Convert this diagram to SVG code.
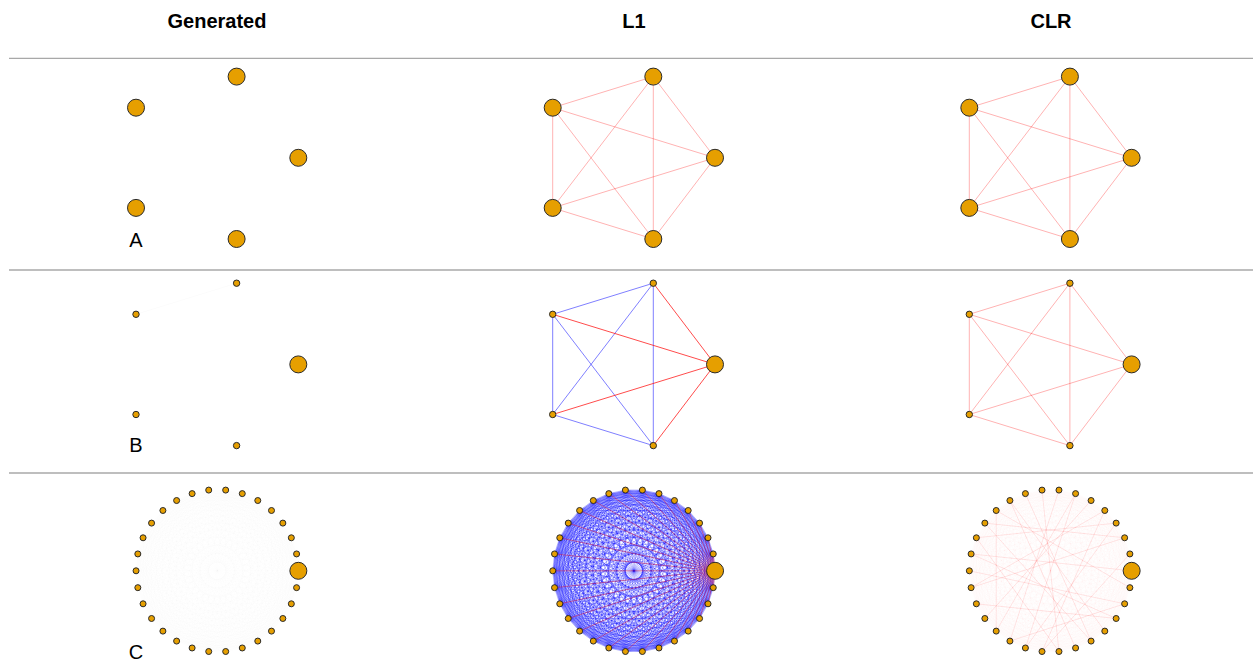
<svg xmlns="http://www.w3.org/2000/svg" xmlns:xlink="http://www.w3.org/1999/xlink" width="1253" height="660" viewBox="0 0 1253 660">
<style>
.hdr{font-family:"Liberation Sans",Arial,sans-serif;font-weight:bold;font-size:20px;text-anchor:middle;fill:#000}
.lbl{font-family:"Liberation Sans",Arial,sans-serif;font-size:20px;text-anchor:middle;fill:#000}
.sep{stroke:#a8a8a8;stroke-width:1.3}
.n{fill:#E69F00;stroke:#2a2a2a;stroke-width:1}
.pink{stroke:#ff0000;stroke-opacity:0.3;stroke-width:1;fill:none}
.red{stroke:#ff0000;stroke-opacity:0.7;stroke-width:1;fill:none}
.blue{stroke:#0000ff;stroke-opacity:0.5;stroke-width:1;fill:none}
.ghost{stroke:#000;stroke-opacity:0.025;stroke-width:0.8;fill:none}
.genC{stroke:#888;stroke-opacity:0.015;stroke-width:0.6;fill:none}
.l1C{stroke:#0000ff;stroke-opacity:0.4;stroke-width:0.7;fill:none}
.l1R{stroke:#ff0000;stroke-opacity:0.55;stroke-width:0.7;fill:none}
.clrC{stroke:#ff0000;stroke-opacity:0.025;stroke-width:0.6;fill:none}
.clrR{stroke:#ff0000;stroke-opacity:0.12;stroke-width:0.8;fill:none}
</style>
<defs>
<path id="e0" d="M298.3 157.8L236.6 76.6M298.3 157.8L136 107.7M298.3 157.8L136 207.9M298.3 157.8L236.6 239"/>
<path id="er" d="M236.6 76.6L136 107.7M236.6 76.6L136 207.9M236.6 76.6L236.6 239M136 107.7L136 207.9M136 107.7L236.6 239M136 207.9L236.6 239"/>
<path id="fan" fill="none" d="M81.15 0L79.38-16.87M81.15 0L74.13-33.01M81.15 0L65.65-47.7M81.15 0L54.3-60.31M81.15 0L40.58-70.28M81.15 0L25.08-77.18M81.15 0L8.48-80.71M81.15 0L-8.48-80.71M81.15 0L-25.08-77.18M81.15 0L-40.58-70.28M81.15 0L-54.3-60.31M81.15 0L-65.65-47.7M81.15 0L-74.13-33.01M81.15 0L-79.38-16.87"/>
<path id="diam" fill="none" d="M81.15 0L-81.15 0M79.38-16.87L-79.38 16.87M74.13-33.01L-74.13 33.01M65.65-47.7L-65.65 47.7M54.3-60.31L-54.3 60.31M40.58-70.28L-40.58 70.28M25.08-77.18L-25.08 77.18M8.48-80.71L-8.48 80.71M-8.48-80.71L8.48 80.71M-25.08-77.18L25.08 77.18M-40.58-70.28L40.58 70.28M-54.3-60.31L54.3 60.31M-65.65-47.7L65.65 47.7M-74.13-33.01L74.13 33.01M-79.38-16.87L79.38 16.87"/>
<g id="half">
<use href="#fan"/><use href="#fan" transform="rotate(-12)"/><use href="#fan" transform="rotate(-24)"/><use href="#fan" transform="rotate(-36)"/><use href="#fan" transform="rotate(-48)"/><use href="#fan" transform="rotate(-60)"/><use href="#fan" transform="rotate(-72)"/><use href="#fan" transform="rotate(-84)"/><use href="#fan" transform="rotate(-96)"/><use href="#fan" transform="rotate(-108)"/><use href="#fan" transform="rotate(-120)"/><use href="#fan" transform="rotate(-132)"/><use href="#fan" transform="rotate(-144)"/><use href="#fan" transform="rotate(-156)"/><use href="#fan" transform="rotate(-168)"/>
</g>
<g id="k30"><use href="#half"/><use href="#half" transform="rotate(180)"/><use href="#diam"/></g>
<path id="star0" fill="none" d="M81.15 0L79.38-16.87M81.15 0L74.13-33.01M81.15 0L65.65-47.7M81.15 0L54.3-60.31M81.15 0L40.58-70.28M81.15 0L25.08-77.18M81.15 0L8.48-80.71M81.15 0L-8.48-80.71M81.15 0L-25.08-77.18M81.15 0L-40.58-70.28M81.15 0L-54.3-60.31M81.15 0L-65.65-47.7M81.15 0L-74.13-33.01M81.15 0L-79.38-16.87M81.15 0L-81.15 0M81.15 0L79.38 16.87M81.15 0L74.13 33.01M81.15 0L65.65 47.7M81.15 0L54.3 60.31M81.15 0L40.58 70.28M81.15 0L25.08 77.18M81.15 0L8.48 80.71M81.15 0L-8.48 80.71M81.15 0L-25.08 77.18M81.15 0L-40.58 70.28M81.15 0L-54.3 60.31M81.15 0L-65.65 47.7M81.15 0L-74.13 33.01M81.15 0L-79.38 16.87"/>
</defs>
<rect width="1253" height="660" fill="#fff"/>
<g id="headers">
<text class="hdr" x="217" y="28">Generated</text>
<text class="hdr" x="634" y="28">L1</text>
<text class="hdr" x="1051" y="28">CLR</text>
</g>
<g id="separators">
<line class="sep" x1="9" y1="58.3" x2="1253" y2="58.3"/>
<line class="sep" x1="9" y1="270" x2="1253" y2="270"/>
<line class="sep" x1="9" y1="473" x2="1253" y2="473"/>
</g>
<g id="row-labels">
<text class="lbl" x="136" y="246.7">A</text>
<text class="lbl" x="136" y="452.3">B</text>
<text class="lbl" x="136" y="658.5">C</text>
</g>
<g id="connectors">
<g id="edges-L1-A" transform="translate(416.7,0)"><use href="#e0" class="pink"/><use href="#er" class="pink"/></g>
<g id="edges-CLR-A" transform="translate(833.3,0)"><use href="#e0" class="pink"/><use href="#er" class="pink"/></g>
<g id="edges-Gen-B" transform="translate(0,206.6)"><path class="ghost" d="M236.6 76.6L136 107.7"/></g>
<g id="edges-L1-B" transform="translate(416.7,206.6)"><use href="#er" class="blue"/><use href="#e0" class="red"/></g>
<g id="edges-CLR-B" transform="translate(833.3,206.6)"><use href="#e0" class="pink"/><use href="#er" class="pink"/></g>
<g id="edges-Gen-C" transform="translate(217.2,570.8)"><use href="#k30" class="genC"/></g>
<g id="edges-L1-C" transform="translate(633.9,570.8)"><use href="#k30" class="l1C"/><use href="#star0" class="l1R"/></g>
<g id="edges-CLR-C" transform="translate(1050.5,570.8)"><use href="#k30" class="clrC"/>
<path class="clrR" d="M-79.38-16.87L81.15 0M-74.13-33.01L65.65-47.7M-54.3-60.31L-54.3 60.31M-40.58-70.28L54.3 60.31M8.48-80.71L-40.58 70.28M-8.48-80.71L8.48 80.71M-25.08-77.18L40.58 70.28M-65.65-47.7L74.13-33.01M-79.38 16.87L54.3-60.31M-74.13 33.01L65.65 47.7M-65.65 47.7L40.58-70.28M-25.08 77.18L25.08-77.18M-8.48 80.71L79.38-16.87M-81.15 0L74.13 33.01M40.58 70.28L-65.65-47.7M25.08-77.18L-54.3 60.31M54.3-60.31L-8.48 80.71M65.65-47.7L-25.08 77.18M74.13-33.01L-79.38 16.87M79.38 16.87L-54.3-60.31M25.08 77.18L-40.58-70.28M8.48 80.71L-74.13-33.01M65.65 47.7L-79.38-16.87M-40.58 70.28L74.13 33.01"/></g>
</g>
<g id="nodes-A">
<g id="gen-A-1"><circle class="n" cx="298.3" cy="157.8" r="8.5"/></g>
<g id="gen-A-2"><circle class="n" cx="236.6" cy="76.6" r="8.5"/></g>
<g id="gen-A-3"><circle class="n" cx="136" cy="107.7" r="8.5"/></g>
<g id="gen-A-4"><circle class="n" cx="136" cy="207.9" r="8.5"/></g>
<g id="gen-A-5"><circle class="n" cx="236.6" cy="239" r="8.5"/></g>
<g id="l1-A-1"><circle class="n" cx="715" cy="157.8" r="8.5"/></g>
<g id="l1-A-2"><circle class="n" cx="653.3" cy="76.6" r="8.5"/></g>
<g id="l1-A-3"><circle class="n" cx="552.7" cy="107.7" r="8.5"/></g>
<g id="l1-A-4"><circle class="n" cx="552.7" cy="207.9" r="8.5"/></g>
<g id="l1-A-5"><circle class="n" cx="653.3" cy="239" r="8.5"/></g>
<g id="clr-A-1"><circle class="n" cx="1131.6" cy="157.8" r="8.5"/></g>
<g id="clr-A-2"><circle class="n" cx="1069.9" cy="76.6" r="8.5"/></g>
<g id="clr-A-3"><circle class="n" cx="969.3" cy="107.7" r="8.5"/></g>
<g id="clr-A-4"><circle class="n" cx="969.3" cy="207.9" r="8.5"/></g>
<g id="clr-A-5"><circle class="n" cx="1069.9" cy="239" r="8.5"/></g>
</g>
<g id="nodes-B">
<g id="gen-B-1"><circle class="n" cx="298.3" cy="364.4" r="8.5"/></g>
<g id="gen-B-2"><circle class="n" cx="236.6" cy="283.2" r="3.2"/></g>
<g id="gen-B-3"><circle class="n" cx="136" cy="314.3" r="3.2"/></g>
<g id="gen-B-4"><circle class="n" cx="136" cy="414.5" r="3.2"/></g>
<g id="gen-B-5"><circle class="n" cx="236.6" cy="445.6" r="3.2"/></g>
<g id="l1-B-1"><circle class="n" cx="715" cy="364.4" r="8.5"/></g>
<g id="l1-B-2"><circle class="n" cx="653.3" cy="283.2" r="3.2"/></g>
<g id="l1-B-3"><circle class="n" cx="552.7" cy="314.3" r="3.2"/></g>
<g id="l1-B-4"><circle class="n" cx="552.7" cy="414.5" r="3.2"/></g>
<g id="l1-B-5"><circle class="n" cx="653.3" cy="445.6" r="3.2"/></g>
<g id="clr-B-1"><circle class="n" cx="1131.6" cy="364.4" r="8.5"/></g>
<g id="clr-B-2"><circle class="n" cx="1069.9" cy="283.2" r="3.2"/></g>
<g id="clr-B-3"><circle class="n" cx="969.3" cy="314.3" r="3.2"/></g>
<g id="clr-B-4"><circle class="n" cx="969.3" cy="414.5" r="3.2"/></g>
<g id="clr-B-5"><circle class="n" cx="1069.9" cy="445.6" r="3.2"/></g>
</g>
<g id="nodes-gen-C" transform="translate(217.2,570.8)">
<g id="gen-C-0"><circle class="n" cx="81.15" cy="0" r="8.5"/></g>
<g id="gen-C-1"><circle class="n" cx="79.38" cy="-16.87" r="3"/></g>
<g id="gen-C-2"><circle class="n" cx="74.13" cy="-33.01" r="3"/></g>
<g id="gen-C-3"><circle class="n" cx="65.65" cy="-47.7" r="3"/></g>
<g id="gen-C-4"><circle class="n" cx="54.3" cy="-60.31" r="3"/></g>
<g id="gen-C-5"><circle class="n" cx="40.58" cy="-70.28" r="3"/></g>
<g id="gen-C-6"><circle class="n" cx="25.08" cy="-77.18" r="3"/></g>
<g id="gen-C-7"><circle class="n" cx="8.48" cy="-80.71" r="3"/></g>
<g id="gen-C-8"><circle class="n" cx="-8.48" cy="-80.71" r="3"/></g>
<g id="gen-C-9"><circle class="n" cx="-25.08" cy="-77.18" r="3"/></g>
<g id="gen-C-10"><circle class="n" cx="-40.58" cy="-70.28" r="3"/></g>
<g id="gen-C-11"><circle class="n" cx="-54.3" cy="-60.31" r="3"/></g>
<g id="gen-C-12"><circle class="n" cx="-65.65" cy="-47.7" r="3"/></g>
<g id="gen-C-13"><circle class="n" cx="-74.13" cy="-33.01" r="3"/></g>
<g id="gen-C-14"><circle class="n" cx="-79.38" cy="-16.87" r="3"/></g>
<g id="gen-C-15"><circle class="n" cx="-81.15" cy="0" r="3"/></g>
<g id="gen-C-16"><circle class="n" cx="-79.38" cy="16.87" r="3"/></g>
<g id="gen-C-17"><circle class="n" cx="-74.13" cy="33.01" r="3"/></g>
<g id="gen-C-18"><circle class="n" cx="-65.65" cy="47.7" r="3"/></g>
<g id="gen-C-19"><circle class="n" cx="-54.3" cy="60.31" r="3"/></g>
<g id="gen-C-20"><circle class="n" cx="-40.58" cy="70.28" r="3"/></g>
<g id="gen-C-21"><circle class="n" cx="-25.08" cy="77.18" r="3"/></g>
<g id="gen-C-22"><circle class="n" cx="-8.48" cy="80.71" r="3"/></g>
<g id="gen-C-23"><circle class="n" cx="8.48" cy="80.71" r="3"/></g>
<g id="gen-C-24"><circle class="n" cx="25.08" cy="77.18" r="3"/></g>
<g id="gen-C-25"><circle class="n" cx="40.58" cy="70.28" r="3"/></g>
<g id="gen-C-26"><circle class="n" cx="54.3" cy="60.31" r="3"/></g>
<g id="gen-C-27"><circle class="n" cx="65.65" cy="47.7" r="3"/></g>
<g id="gen-C-28"><circle class="n" cx="74.13" cy="33.01" r="3"/></g>
<g id="gen-C-29"><circle class="n" cx="79.38" cy="16.87" r="3"/></g>
</g>
<g id="nodes-l1-C" transform="translate(633.9,570.8)">
<g id="l1-C-0"><circle class="n" cx="81.15" cy="0" r="8.5"/></g>
<g id="l1-C-1"><circle class="n" cx="79.38" cy="-16.87" r="3"/></g>
<g id="l1-C-2"><circle class="n" cx="74.13" cy="-33.01" r="3"/></g>
<g id="l1-C-3"><circle class="n" cx="65.65" cy="-47.7" r="3"/></g>
<g id="l1-C-4"><circle class="n" cx="54.3" cy="-60.31" r="3"/></g>
<g id="l1-C-5"><circle class="n" cx="40.58" cy="-70.28" r="3"/></g>
<g id="l1-C-6"><circle class="n" cx="25.08" cy="-77.18" r="3"/></g>
<g id="l1-C-7"><circle class="n" cx="8.48" cy="-80.71" r="3"/></g>
<g id="l1-C-8"><circle class="n" cx="-8.48" cy="-80.71" r="3"/></g>
<g id="l1-C-9"><circle class="n" cx="-25.08" cy="-77.18" r="3"/></g>
<g id="l1-C-10"><circle class="n" cx="-40.58" cy="-70.28" r="3"/></g>
<g id="l1-C-11"><circle class="n" cx="-54.3" cy="-60.31" r="3"/></g>
<g id="l1-C-12"><circle class="n" cx="-65.65" cy="-47.7" r="3"/></g>
<g id="l1-C-13"><circle class="n" cx="-74.13" cy="-33.01" r="3"/></g>
<g id="l1-C-14"><circle class="n" cx="-79.38" cy="-16.87" r="3"/></g>
<g id="l1-C-15"><circle class="n" cx="-81.15" cy="0" r="3"/></g>
<g id="l1-C-16"><circle class="n" cx="-79.38" cy="16.87" r="3"/></g>
<g id="l1-C-17"><circle class="n" cx="-74.13" cy="33.01" r="3"/></g>
<g id="l1-C-18"><circle class="n" cx="-65.65" cy="47.7" r="3"/></g>
<g id="l1-C-19"><circle class="n" cx="-54.3" cy="60.31" r="3"/></g>
<g id="l1-C-20"><circle class="n" cx="-40.58" cy="70.28" r="3"/></g>
<g id="l1-C-21"><circle class="n" cx="-25.08" cy="77.18" r="3"/></g>
<g id="l1-C-22"><circle class="n" cx="-8.48" cy="80.71" r="3"/></g>
<g id="l1-C-23"><circle class="n" cx="8.48" cy="80.71" r="3"/></g>
<g id="l1-C-24"><circle class="n" cx="25.08" cy="77.18" r="3"/></g>
<g id="l1-C-25"><circle class="n" cx="40.58" cy="70.28" r="3"/></g>
<g id="l1-C-26"><circle class="n" cx="54.3" cy="60.31" r="3"/></g>
<g id="l1-C-27"><circle class="n" cx="65.65" cy="47.7" r="3"/></g>
<g id="l1-C-28"><circle class="n" cx="74.13" cy="33.01" r="3"/></g>
<g id="l1-C-29"><circle class="n" cx="79.38" cy="16.87" r="3"/></g>
</g>
<g id="nodes-clr-C" transform="translate(1050.5,570.8)">
<g id="clr-C-0"><circle class="n" cx="81.15" cy="0" r="8.5"/></g>
<g id="clr-C-1"><circle class="n" cx="79.38" cy="-16.87" r="3"/></g>
<g id="clr-C-2"><circle class="n" cx="74.13" cy="-33.01" r="3"/></g>
<g id="clr-C-3"><circle class="n" cx="65.65" cy="-47.7" r="3"/></g>
<g id="clr-C-4"><circle class="n" cx="54.3" cy="-60.31" r="3"/></g>
<g id="clr-C-5"><circle class="n" cx="40.58" cy="-70.28" r="3"/></g>
<g id="clr-C-6"><circle class="n" cx="25.08" cy="-77.18" r="3"/></g>
<g id="clr-C-7"><circle class="n" cx="8.48" cy="-80.71" r="3"/></g>
<g id="clr-C-8"><circle class="n" cx="-8.48" cy="-80.71" r="3"/></g>
<g id="clr-C-9"><circle class="n" cx="-25.08" cy="-77.18" r="3"/></g>
<g id="clr-C-10"><circle class="n" cx="-40.58" cy="-70.28" r="3"/></g>
<g id="clr-C-11"><circle class="n" cx="-54.3" cy="-60.31" r="3"/></g>
<g id="clr-C-12"><circle class="n" cx="-65.65" cy="-47.7" r="3"/></g>
<g id="clr-C-13"><circle class="n" cx="-74.13" cy="-33.01" r="3"/></g>
<g id="clr-C-14"><circle class="n" cx="-79.38" cy="-16.87" r="3"/></g>
<g id="clr-C-15"><circle class="n" cx="-81.15" cy="0" r="3"/></g>
<g id="clr-C-16"><circle class="n" cx="-79.38" cy="16.87" r="3"/></g>
<g id="clr-C-17"><circle class="n" cx="-74.13" cy="33.01" r="3"/></g>
<g id="clr-C-18"><circle class="n" cx="-65.65" cy="47.7" r="3"/></g>
<g id="clr-C-19"><circle class="n" cx="-54.3" cy="60.31" r="3"/></g>
<g id="clr-C-20"><circle class="n" cx="-40.58" cy="70.28" r="3"/></g>
<g id="clr-C-21"><circle class="n" cx="-25.08" cy="77.18" r="3"/></g>
<g id="clr-C-22"><circle class="n" cx="-8.48" cy="80.71" r="3"/></g>
<g id="clr-C-23"><circle class="n" cx="8.48" cy="80.71" r="3"/></g>
<g id="clr-C-24"><circle class="n" cx="25.08" cy="77.18" r="3"/></g>
<g id="clr-C-25"><circle class="n" cx="40.58" cy="70.28" r="3"/></g>
<g id="clr-C-26"><circle class="n" cx="54.3" cy="60.31" r="3"/></g>
<g id="clr-C-27"><circle class="n" cx="65.65" cy="47.7" r="3"/></g>
<g id="clr-C-28"><circle class="n" cx="74.13" cy="33.01" r="3"/></g>
<g id="clr-C-29"><circle class="n" cx="79.38" cy="16.87" r="3"/></g>
</g>
</svg>
